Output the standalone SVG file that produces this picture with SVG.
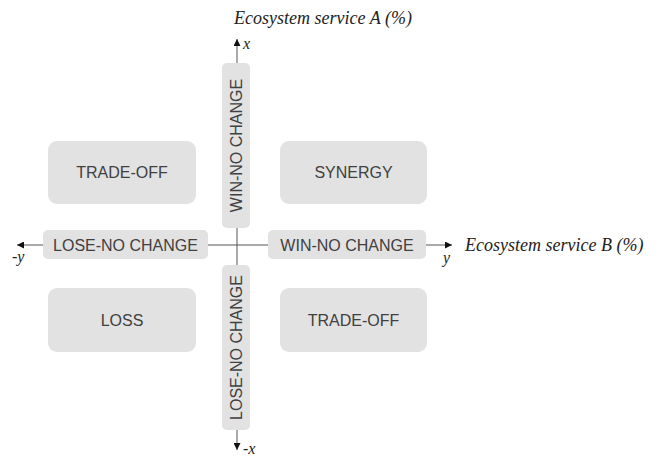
<svg xmlns="http://www.w3.org/2000/svg" width="661" height="458" viewBox="0 0 661 458">
<style>
.box{fill:#e2e2e2;}
.lbl{font-family:"Liberation Sans",Arial,sans-serif;font-size:16px;fill:#404040;text-anchor:middle;}
.ax{font-family:"Liberation Serif","Times New Roman",serif;font-style:italic;fill:#222;}
.line{stroke:#555;stroke-width:1;fill:none;}
</style>
<defs>
<marker id="arr" viewBox="0 0 8 8" refX="8" refY="4" markerWidth="7" markerHeight="7" markerUnits="userSpaceOnUse" orient="auto">
<path d="M0,0 L8,4 L0,8 z" fill="#111"/>
</marker>
</defs>
<rect width="661" height="458" fill="#fff"/>
<g id="connectors">
<line class="line" x1="237" y1="245" x2="237" y2="39" marker-end="url(#arr)"/>
<line class="line" x1="237" y1="245" x2="237" y2="450" marker-end="url(#arr)"/>
<line class="line" x1="237" y1="245" x2="452" y2="245" marker-end="url(#arr)"/>
<line class="line" x1="237" y1="245" x2="17" y2="245" marker-end="url(#arr)"/>
</g>
<g id="axis-labels">
<text class="ax" x="323" y="24" font-size="18" text-anchor="middle">Ecosystem service A (%)</text>
<text class="ax" x="465" y="251" font-size="18">Ecosystem service B (%)</text>
<text class="ax" x="243" y="49" font-size="16">x</text>
<text class="ax" x="243" y="454" font-size="16">-x</text>
<text class="ax" x="12" y="262" font-size="16">-y</text>
<text class="ax" x="443" y="263" font-size="16">y</text>
</g>
<g id="tradeoff-top">
<rect class="box" x="48" y="141" width="148" height="63" rx="9"/>
<text class="lbl" x="122" y="178">TRADE-OFF</text>
</g>
<g id="synergy">
<rect class="box" x="280" y="141" width="147" height="63" rx="9"/>
<text class="lbl" x="353.5" y="178">SYNERGY</text>
</g>
<g id="loss">
<rect class="box" x="48" y="288" width="148" height="64" rx="9"/>
<text class="lbl" x="122" y="326">LOSS</text>
</g>
<g id="tradeoff-bottom">
<rect class="box" x="280" y="288" width="147" height="64" rx="9"/>
<text class="lbl" x="353.5" y="326">TRADE-OFF</text>
</g>
<g id="win-vertical">
<rect class="box" x="222" y="63" width="28" height="165" rx="5"/>
<text class="lbl" transform="translate(242,145.5) rotate(-90)" x="0" y="0">WIN-NO CHANGE</text>
</g>
<g id="lose-vertical">
<rect class="box" x="222" y="265" width="28" height="165" rx="5"/>
<text class="lbl" transform="translate(242,347.5) rotate(-90)" x="0" y="0">LOSE-NO CHANGE</text>
</g>
<g id="lose-horizontal">
<rect class="box" x="43" y="230" width="165" height="29" rx="5"/>
<text class="lbl" x="125.5" y="250.5">LOSE-NO CHANGE</text>
</g>
<g id="win-horizontal">
<rect class="box" x="268" y="230" width="158" height="29" rx="5"/>
<text class="lbl" x="347" y="250.5">WIN-NO CHANGE</text>
</g>
</svg>
